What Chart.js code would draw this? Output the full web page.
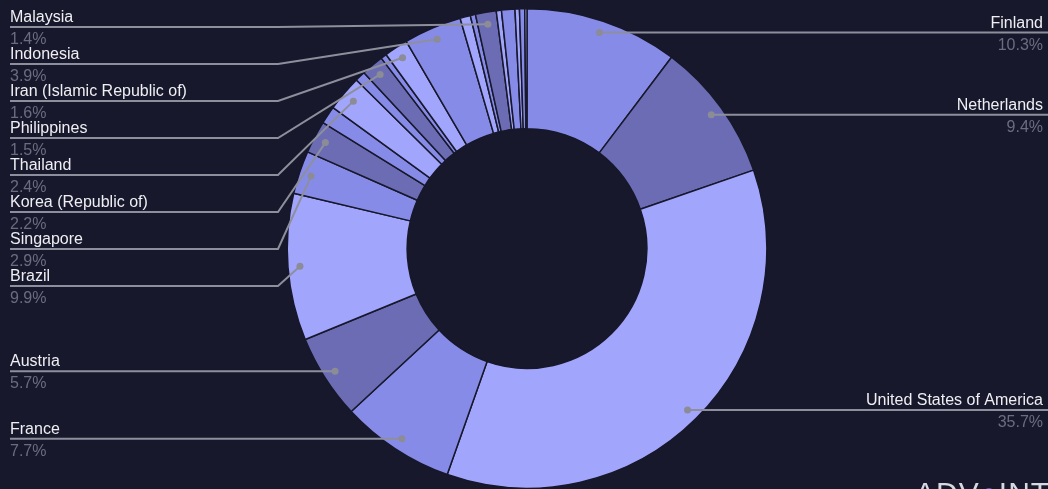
<!DOCTYPE html>
<html>
<head>
<meta charset="utf-8">
<script src="https://cdn.jsdelivr.net/npm/chart.js@4.4.0/dist/chart.umd.min.js"></script>
<style>
html, body { margin: 0; padding: 0; background: #17182b; overflow: hidden; }
#wrap { position: relative; width: 1048px; height: 489px; }
#marca { position: absolute; left: 915px; top: 476px; font: 300 30px "Liberation Sans", Arial, sans-serif; color: #d8d8e2; white-space: nowrap; letter-spacing: 1px; }
#marca span { color: #6a4fd0; }
</style>
</head>
<body>
<div id="wrap">
<canvas id="grafica" width="1048" height="489"></canvas>
<div id="marca">ADV<span>●</span>INTEL</div>
</div>
<script>
// paises en orden horario desde arriba; los sin nombre son rebanadas muy chicas sin etiqueta
const paises = ['Finland', 'Netherlands', 'United States of America', 'France', 'Austria', 'Brazil',
    'Singapore', 'Korea (Republic of)', '', 'Thailand', '', 'Philippines', '', 'Iran (Islamic Republic of)',
    'Indonesia', '', '', 'Malaysia', '', '', '', '', ''];
const porcentajes = [10.3, 9.4, 35.7, 7.7, 5.7, 9.9,
    2.9, 2.2, 1.2, 2.4, 0.7, 1.5, 0.4, 1.6,
    3.9, 0.7, 0.35, 1.4, 0.35, 0.9, 0.3, 0.35, 0.15];

const claro = '#a2a5fc';
const medio = '#878be8';
const oscuro = '#6b6cb4';
const colores = [medio, oscuro, claro, medio, oscuro, claro,
    medio, oscuro, medio, claro, medio, oscuro, medio, claro,
    medio, claro, medio, oscuro, claro, medio, claro, medio, claro];

const fuente = '16px "Liberation Sans", Arial, sans-serif';

const etiquetas = {
    id: 'etiquetas',
    afterDraw(chart) {
        const ctx = chart.ctx;
        const meta = chart.getDatasetMeta(0);
        const total = porcentajes.reduce((a, b) => a + b, 0);
        const izq = [], der = [];
        meta.data.forEach((arc, i) => {
            const pct = porcentajes[i] / total * 100;
            if (!paises[i]) return;
            const p = arc.getProps(['x', 'y', 'startAngle', 'endAngle', 'outerRadius'], true);
            const mid = (p.startAngle + p.endAngle) / 2;
            const r = p.outerRadius - 12;
            const item = { nombre: paises[i], pct: pct, px: p.x + Math.cos(mid) * r, py: p.y + Math.sin(mid) * r };
            (item.px < p.x ? izq : der).push(item);
        });
        function separar(lista) {
            lista.sort((a, b) => a.py - b.py);
            let prev = -Infinity;
            lista.forEach(it => { it.y = Math.max(it.py, prev + 37, 27); prev = it.y; });
        }
        separar(izq);
        separar(der);

        ctx.save();
        ctx.strokeStyle = '#8e8f9c';
        ctx.lineWidth = 2;
        izq.forEach(it => {
            ctx.beginPath();
            ctx.moveTo(10, it.y);
            ctx.lineTo(278, it.y);
            ctx.lineTo(it.px, it.py);
            ctx.stroke();
        });
        der.forEach(it => {
            ctx.beginPath();
            ctx.moveTo(it.px, it.py);
            ctx.lineTo(776, it.y);
            ctx.lineTo(1048, it.y);
            ctx.stroke();
        });
        ctx.fillStyle = '#8b8c96';
        izq.concat(der).forEach(it => {
            ctx.beginPath();
            ctx.arc(it.px, it.py, 3.5, 0, Math.PI * 2);
            ctx.fill();
        });
        ctx.font = fuente;
        ctx.textBaseline = 'alphabetic';
        izq.forEach(it => {
            ctx.textAlign = 'left';
            ctx.fillStyle = '#eeeef3';
            ctx.fillText(it.nombre, 10, it.y - 5);
            ctx.fillStyle = '#6b6c80';
            ctx.fillText(it.pct.toFixed(1) + '%', 10, it.y + 17);
        });
        der.forEach(it => {
            ctx.textAlign = 'right';
            ctx.fillStyle = '#eeeef3';
            ctx.fillText(it.nombre, 1043, it.y - 5);
            ctx.fillStyle = '#6b6c80';
            ctx.fillText(it.pct.toFixed(1) + '%', 1043, it.y + 17);
        });
        ctx.restore();
    }
};

const ctx = document.getElementById('grafica').getContext('2d');
const miGrafica = new Chart(ctx, {
    type: 'doughnut',
    data: {
        labels: paises,
        datasets: [{
            data: porcentajes,
            backgroundColor: colores,
            borderColor: '#17182b',
            borderWidth: 1.5,
        }],
    },
    options: {
        responsive: false,
        animation: false,
        cutout: '50%',
        layout: { padding: { top: 8, bottom: 0, left: 6, right: 0 } },
        plugins: {
            legend: { display: false },
            tooltip: { enabled: false },
        },
    },
    plugins: [etiquetas],
});
</script>
</body>
</html>
